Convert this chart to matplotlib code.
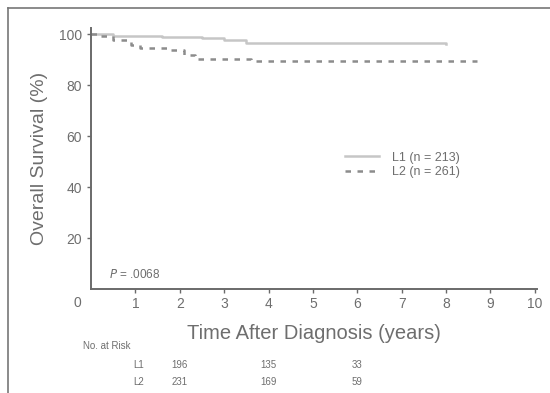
import matplotlib
matplotlib.use('Agg')
import matplotlib.pyplot as plt
from matplotlib.lines import Line2D

plt.rcParams['font.family'] = ['Liberation Sans', 'DejaVu Sans']

# Kaplan-Meier steps
l1_time = [0, 0.5, 1.0, 1.6, 2.5, 3.0, 3.5, 8.0]
l1_surv = [100, 99.5, 99.2, 98.8, 98.4, 97.9, 96.5, 96.3]
l2_time = [0, 0.2, 0.5, 0.9, 1.1, 1.8, 2.1, 2.35, 3.6, 8.7]
l2_surv = [100, 99.3, 98.0, 96.0, 94.5, 93.7, 92.0, 90.5, 89.7, 89.7]
labels = ['L1 (n = 213)', 'L2 (n = 261)']

# numbers at risk
risk_times = [2, 4, 6]
risk_l1 = [196, 135, 33]
risk_l2 = [231, 169, 59]

xticks = [1, 2, 3, 4, 5, 6, 7, 8, 9, 10]
yticks = [20, 40, 60, 80, 100]

axis_col = '#6a6a6a'
text_col = '#6e6e6e'

fig = plt.figure(figsize=(5.5, 3.93), dpi=100)
ax = fig.add_axes([0.1655, 0.2646, 0.811, 0.664])

ax.step(l1_time, l1_surv, where='post', color='#c6c6c6', lw=1.8, label=labels[0])
ax.step(l2_time, l2_surv, where='post', color='#8c8c8c', lw=1.8,
        dashes=(2.2, 2.6), label=labels[1])

ax.set_xlim(0, 10.05)
ax.set_ylim(0, 102.5)
ax.set_xticks(xticks)
ax.set_yticks(yticks)
for s in ['top', 'right']:
    ax.spines[s].set_visible(False)
for s in ['left', 'bottom']:
    ax.spines[s].set_color(axis_col)
    ax.spines[s].set_linewidth(1.4)
ax.tick_params(colors=axis_col, labelcolor=text_col, labelsize=10, length=3, width=1)
ax.tick_params(axis='x', pad=3)

# shared origin label
ax.text(-0.022, -0.055, '0', transform=ax.transAxes, ha='right', va='center',
        fontsize=10, color=text_col)

ax.set_ylabel('Overall Survival (%)', fontsize=14, color=text_col, labelpad=8)
ax.set_xlabel('Time After Diagnosis (years)', fontsize=14.5, color=text_col, labelpad=9)

ax.text(0.4, 4.5, '$P$ = .0068', fontsize=8.5, color=text_col)

ax.legend(loc='upper left', bbox_to_anchor=(0.545, 0.57), frameon=False,
          fontsize=9, handlelength=2.7, handletextpad=1.0, labelspacing=0.2,
          labelcolor=text_col)

# number at risk table
ax.text(-0.018, -0.22, 'No. at Risk', transform=ax.transAxes, fontsize=7,
        color=text_col, va='center')
for row, (name, vals) in enumerate([('L1', risk_l1), ('L2', risk_l2)]):
    yy = -0.29 - row * 0.065
    ax.text(1.08, yy, name, transform=ax.get_xaxis_transform(), fontsize=7,
            color=text_col, va='center', ha='center')
    for t, v in zip(risk_times, vals):
        ax.text(t, yy, str(v), transform=ax.get_xaxis_transform(), fontsize=7,
                color=text_col, va='center', ha='center')

# frame of the scanned figure
fig.add_artist(Line2D([8 / 550, 8 / 550], [0, 1 - 8 / 393], transform=fig.transFigure,
                      color='#777777', lw=1.2))
fig.add_artist(Line2D([8 / 550, 1], [1 - 8 / 393, 1 - 8 / 393], transform=fig.transFigure,
                      color='#777777', lw=1.2))

fig.savefig('out.png', dpi=100)
